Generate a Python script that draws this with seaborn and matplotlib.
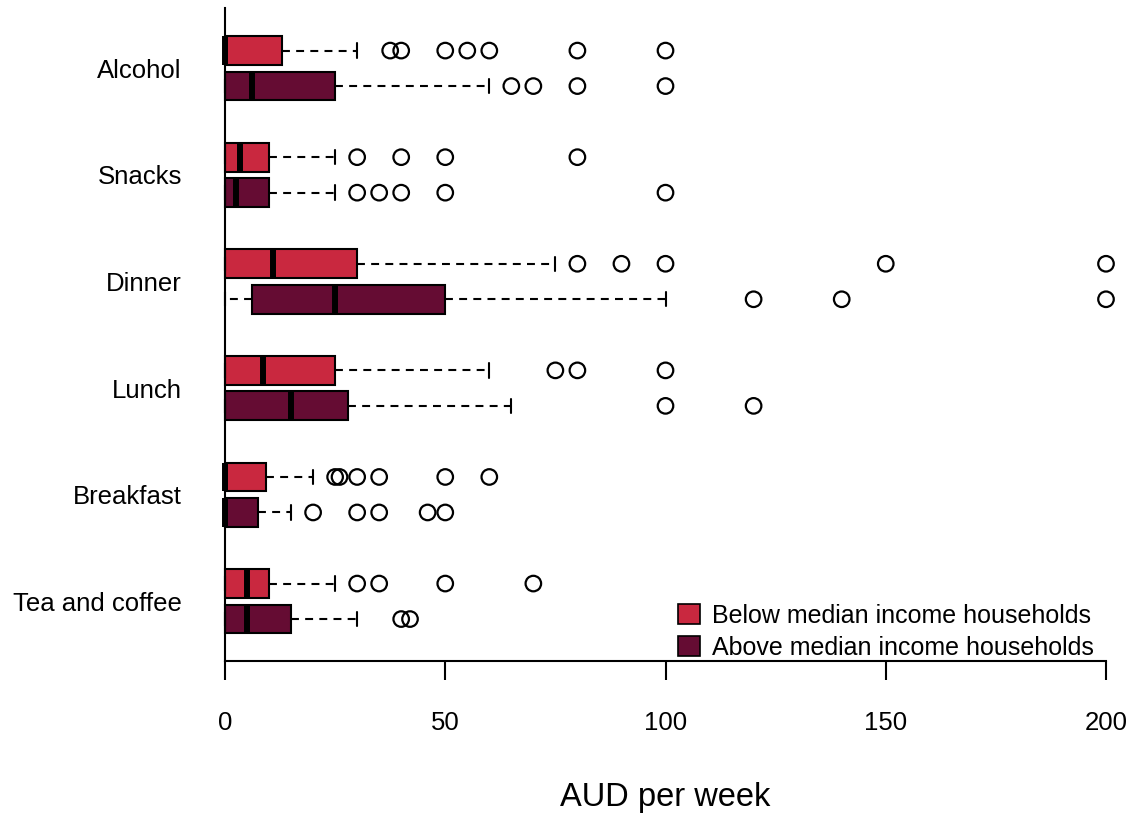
import pandas as pd
import matplotlib
matplotlib.use("Agg")
import matplotlib.pyplot as plt
import seaborn as sns
from matplotlib.patches import Patch

sns.set_style("white")
plt.rcParams["font.family"] = ["Liberation Sans", "DejaVu Sans"]
plt.rcParams["text.color"] = "black"

categories = ["Alcohol", "Snacks", "Dinner", "Lunch", "Breakfast", "Tea and coffee"]
groups = ["Below median income households", "Above median income households"]
colors = ["#C9283F", "#650C33"]

# five-number summaries (whisker low, Q1, median, Q3, whisker high), AUD per week
below_stats = {
    "Alcohol":        [0, 0, 0, 13, 30],
    "Snacks":         [0, 0, 3.5, 10, 25],
    "Dinner":         [0, 0, 11, 30, 75],
    "Lunch":          [0, 0, 8.7, 25, 60],
    "Breakfast":      [0, 0, 0, 9.3, 20],
    "Tea and coffee": [0, 0, 5, 10, 25],
}
above_stats = {
    "Alcohol":        [0, 0, 6.2, 25, 60],
    "Snacks":         [0, 0, 2.5, 10, 25],
    "Dinner":         [0, 6.2, 25, 50, 100],
    "Lunch":          [0, 0, 15, 28, 65],
    "Breakfast":      [0, 0, 0, 7.5, 15],
    "Tea and coffee": [0, 0, 5, 15, 30],
}

# outliers
below_out = {
    "Alcohol":        [37.5, 40, 50, 55, 60, 80, 100],
    "Snacks":         [30, 40, 50, 80],
    "Dinner":         [80, 90, 100, 150, 200],
    "Lunch":          [75, 80, 100],
    "Breakfast":      [25, 26, 30, 35, 50, 60],
    "Tea and coffee": [30, 35, 50, 70],
}
above_out = {
    "Alcohol":        [65, 70, 80, 100],
    "Snacks":         [30, 35, 40, 50, 100],
    "Dinner":         [120, 140, 200],
    "Lunch":          [100, 120],
    "Breakfast":      [20, 30, 35, 46, 50],
    "Tea and coffee": [40, 42],
}

box_width = 0.666
offset = box_width / 4

rows = []
for grp, stats in zip(groups, [below_stats, above_stats]):
    for cat in categories:
        for v in stats[cat]:
            rows.append({"category": cat, "group": grp, "value": v})
box_df = pd.DataFrame(rows)

rows = []
for i, (grp, outs) in enumerate(zip(groups, [below_out, above_out])):
    for cat in categories:
        for v in outs[cat]:
            ypos = categories.index(cat) + (-offset if i == 0 else offset)
            rows.append({"category": cat, "group": grp, "value": v, "ypos": ypos})
out_df = pd.DataFrame(rows)

fig = plt.figure(figsize=(11.34, 8.13), dpi=100)
ax = fig.add_axes([225 / 1134, 1 - 661 / 813, (1106 - 225) / 1134, (661 - 8) / 813])

sns.boxplot(
    data=box_df,
    x="value",
    y="category",
    hue="group",
    order=categories,
    hue_order=groups,
    palette=colors,
    saturation=1,
    width=box_width,
    gap=0.19,
    whis=(0, 100),
    showfliers=False,
    linecolor="black",
    linewidth=1.5,
    whiskerprops=dict(linestyle=(0, (3.8, 3.0)), linewidth=1.5),
    medianprops=dict(linewidth=4.3, color="black"),
    legend=False,
    ax=ax,
)

sns.scatterplot(
    data=out_df,
    x="value",
    y="ypos",
    marker="o",
    s=125,
    fc="none",
    ec="black",
    linewidth=1.6,
    legend=False,
    clip_on=False,
    ax=ax,
)

for artist in ax.lines + ax.patches:
    artist.set_clip_on(False)

ax.set_xlim(0, 200)
ax.set_ylim(5.56, -0.566)
ax.set_xticks([0, 50, 100, 150, 200])
ax.set_yticks(range(len(categories)))
ax.set_yticklabels(categories)

sns.despine(ax=ax)
for side in ["left", "bottom"]:
    ax.spines[side].set_linewidth(1.5)
    ax.spines[side].set_color("black")

ax.tick_params(axis="x", direction="out", length=14, width=1.5, pad=22,
               labelsize=18.5, colors="black", bottom=True)
ax.tick_params(axis="y", length=0, pad=31, labelsize=18.5, colors="black")

ax.set_ylabel("")
ax.set_xlabel("AUD per week", fontsize=23.5, color="black")
ax.xaxis.set_label_coords(0.5, -0.186)

handles = [Patch(facecolor=c, edgecolor="black", linewidth=1.2) for c in colors]
ax.legend(
    handles, groups,
    loc="upper left",
    bbox_to_anchor=(678 / 1134, 1 - 604 / 813),
    bbox_transform=fig.transFigure,
    frameon=False,
    fontsize=18,
    handlelength=0.87,
    handleheight=0.87,
    handletextpad=0.5,
    labelspacing=0.3,
    borderpad=0,
    borderaxespad=0,
)

fig.savefig("out.png", dpi=100, facecolor="white")
